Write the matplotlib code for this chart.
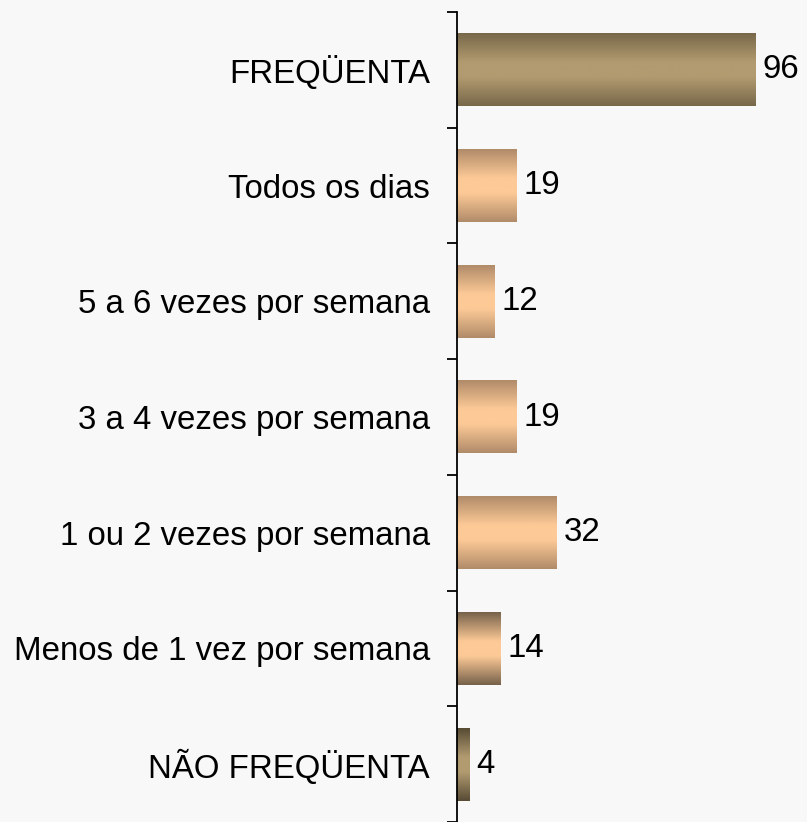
import numpy as np
import matplotlib
matplotlib.use('Agg')
import matplotlib.pyplot as plt
from matplotlib.colors import LinearSegmentedColormap

plt.rcParams['font.family'] = ['Liberation Sans', 'DejaVu Sans']

categories = ['FREQÜENTA', 'Todos os dias', '5 a 6 vezes por semana',
              '3 a 4 vezes por semana', '1 ou 2 vezes por semana',
              'Menos de 1 vez por semana', 'NÃO FREQÜENTA']
values = [96, 19, 12, 19, 32, 14, 4]
# edge colour, centre colour of each bar's vertical gradient
styles = ['olive', 'peach', 'peach', 'peach', 'peach', 'mixed', 'dark']
gradients = {
    'olive': ('#78684a', '#b29b70'),
    'peach': ('#b08b69', '#fdca97'),
    'mixed': ('#76614a', '#fdca97'),
    'dark': ('#574b35', '#b29b70'),
}

bg = '#f8f8f8'
fig = plt.figure(figsize=(8.07, 8.22), dpi=100, facecolor=bg)
ax = fig.add_axes([457 / 807, 0, 1 - 457 / 807, (822 - 12) / 822])
ax.set_facecolor(bg)

ypos = np.arange(len(categories))
bars = ax.barh(ypos, values, height=0.63, color='none', edgecolor='none')

for bar, style, v in zip(bars, styles, values):
    edge, centre = gradients[style]
    cmap = LinearSegmentedColormap.from_list(
        style, [(0, edge), (0.4, centre), (0.6, centre), (1, edge)])
    x0, y0 = bar.get_x(), bar.get_y()
    w, h = bar.get_width(), bar.get_height()
    grad = np.linspace(0, 1, 256).reshape(-1, 1)
    ax.imshow(grad, cmap=cmap, aspect='auto', extent=(x0, x0 + w, y0 + h, y0),
              interpolation='bicubic', zorder=2)
    ax.text(x0 + w + 2.3, y0 + h / 2, str(v), va='center', ha='left',
            fontsize=23.8)

ax.set_xlim(0, 112.7)
ax.set_ylim(len(categories) - 0.5, -0.5)

ax.set_yticks(ypos)
ax.set_yticklabels(categories, fontsize=23.8)
ax.tick_params(axis='y', which='major', length=0, pad=19.5)
ax.set_yticks(np.arange(len(categories) + 1) - 0.5, minor=True)
ax.tick_params(axis='y', which='minor', length=7.5, width=1.3, direction='out')
ax.set_xticks([])

for side in ['top', 'right', 'bottom']:
    ax.spines[side].set_visible(False)
ax.spines['left'].set_linewidth(1.3)

fig.savefig('out.png', dpi=100, facecolor=bg)
